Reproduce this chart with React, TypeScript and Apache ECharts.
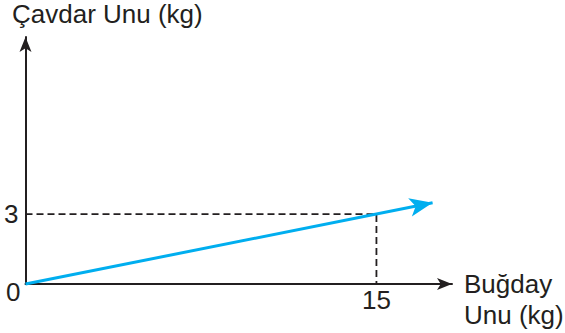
import React, { useEffect, useRef } from "react";
import * as echarts from "echarts";

const xTickValues = [15];
const yTickValues = [0, 3];
const xAxisName = "Buğday\nUnu (kg)";
const yAxisName = "Çavdar Unu (kg)";
const ratioLine = [
  [0, 0],
  [17.4, 3.48],
];
const guidePoints = [
  [0, 3],
  [15, 3],
  [15, 0],
];

const INK = "#231f20";
const BLUE = "#00aeef";
const FONT = "'Liberation Sans', Arial, Helvetica, sans-serif";
const FS = 26;

export default function App() {
  const ref = useRef<HTMLDivElement>(null);
  useEffect(() => {
    if (!ref.current) return;
    const chart = echarts.init(ref.current, undefined, { renderer: "svg" });
    const last = ratioLine[ratioLine.length - 1];
    const blueData = ratioLine.map((p, i) =>
      i === ratioLine.length - 1
        ? {
            value: p,
            symbol: "arrow",
            symbolSize: [14, 23],
            symbolRotate: -(90 - (Math.atan2(last[1], last[0]) * 180) / Math.PI),
          }
        : { value: p, symbol: "none" }
    );
    chart.setOption({
      animation: false,
      textStyle: { fontFamily: FONT },
      title: {
        text: yAxisName,
        left: 12,
        top: 1,
        padding: 0,
        textStyle: { fontFamily: FONT, fontSize: FS, fontWeight: "normal", color: INK },
      },
      graphic: [
        {
          type: "text",
          left: 464,
          top: 268,
          silent: true,
          style: {
            text: xAxisName,
            font: `${FS}px ${FONT}`,
            lineHeight: 31,
            fill: INK,
            align: "left",
          },
        },
      ],
      grid: {
        left: 25.5,
        right: 113,
        top: 37,
        bottom: 49,
        containLabel: false,
        outerBoundsMode: "none",
      },
      xAxis: {
        type: "value",
        min: 0,
        max: 18.23,
        axisLine: {
          show: true,
          onZero: false,
          symbol: ["none", "arrow"],
          symbolSize: [9, 15],
          lineStyle: { color: INK, width: 2 },
        },
        axisTick: { show: false },
        splitLine: { show: false },
        axisLabel: {
          customValues: xTickValues,
          margin: 3,
          fontFamily: FONT,
          fontSize: FS,
          color: INK,
        },
      },
      yAxis: {
        type: "value",
        min: 0,
        max: 10.59,
        axisLine: {
          show: true,
          onZero: false,
          symbol: ["none", "arrow"],
          symbolSize: [9, 15],
          lineStyle: { color: INK, width: 2 },
        },
        axisTick: { show: false },
        splitLine: { show: false },
        axisLabel: {
          customValues: yTickValues,
          margin: 5,
          fontFamily: FONT,
          fontSize: FS,
          color: INK,
          formatter: (v: number) => (v === 0 ? "{z|" + v + "}" : "{n|" + v + "}"),
          rich: {
            z: { fontFamily: FONT, fontSize: FS, color: INK, padding: [16, 0, 0, 0] },
            n: { fontFamily: FONT, fontSize: FS, color: INK, padding: [0, 2, 0, 0] },
          },
        },
      },
      series: [
        {
          type: "line",
          data: guidePoints,
          symbol: "none",
          silent: true,
          lineStyle: { color: INK, width: 1.8, type: [7, 4] },
          z: 1,
        },
        {
          type: "line",
          data: blueData,
          symbol: "none",
          showSymbol: true,
          silent: true,
          clip: false,
          itemStyle: { color: BLUE, borderWidth: 0 },
          lineStyle: { color: BLUE, width: 3 },
          z: 3,
        },
      ],
    });
    return () => chart.dispose();
  }, []);
  return (
    <div
      ref={ref}
      style={{ position: "fixed", left: 0, top: 0, width: 565, height: 333, background: "#fff" }}
    />
  );
}
